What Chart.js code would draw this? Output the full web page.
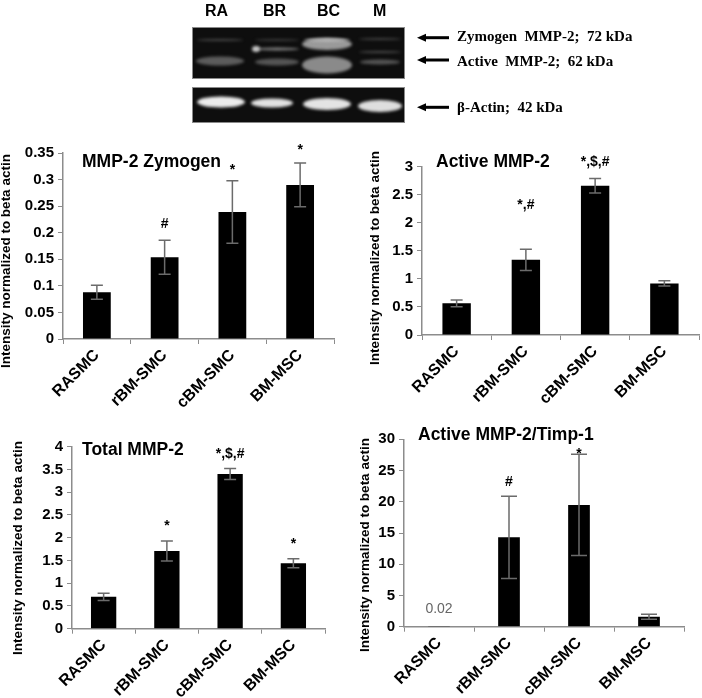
<!DOCTYPE html>
<html>
<head>
<meta charset="utf-8">
<script src="https://cdn.jsdelivr.net/npm/chart.js@4.4.1/dist/chart.umd.min.js"></script>
<style>
  html, body { margin: 0; padding: 0; background: #fff; }
  #page { position: relative; width: 702px; height: 698px; overflow: hidden; font-family: Arial, "Liberation Sans", sans-serif; }
  .box { position: absolute; }
  .lane { position: absolute; top: 3px; font: bold 16px/16px Arial, "Liberation Sans", sans-serif; }
  .band { position: absolute; left: 457px; font: bold 15px/15px "Times New Roman", "Liberation Serif", serif; white-space: pre; }
</style>
</head>
<body>
<div id="page">
  <canvas id="blot" width="702" height="130" style="position:absolute;left:0;top:0"></canvas>
  <div class="lane" style="left:205px">RA</div>
  <div class="lane" style="left:263px">BR</div>
  <div class="lane" style="left:317px">BC</div>
  <div class="lane" style="left:373px">M</div>
  <div class="band" style="top:29px">Zymogen  MMP-2;  72 kDa</div>
  <div class="band" style="top:54px">Active  MMP-2;  62 kDa</div>
  <div class="band" style="top:100px">β-Actin;  42 kDa</div>

  <div class="box" style="left:0;top:140px;width:345px;height:270px"><canvas id="c1"></canvas></div>
  <div class="box" style="left:351px;top:140px;width:351px;height:270px"><canvas id="c2"></canvas></div>
  <div class="box" style="left:0;top:420px;width:351px;height:278px"><canvas id="c3"></canvas></div>
  <div class="box" style="left:340px;top:420px;width:362px;height:278px"><canvas id="c4"></canvas></div>
</div>
<script>
const groups = ["RASMC", "rBM-SMC", "cBM-SMC", "BM-MSC"];

const zymogenMean = [0.088, 0.154, 0.239, 0.29];
const zymogenErr = [0.013, 0.032, 0.059, 0.041];
const zymogenNotes = ["", "#", "*", "*"];

const activeMean = [0.565, 1.34, 2.66, 0.92];
const activeErr = [0.06, 0.19, 0.13, 0.045];
const activeNotes = ["", "*,#", "*,$,#", ""];

const totalMean = [0.70, 1.71, 3.40, 1.44];
const totalErr = [0.08, 0.22, 0.12, 0.10];
const totalNotes = ["", "*", "*,$,#", "*"];

const ratioMean = [0.02, 14.3, 19.5, 1.6];
const ratioErr = [0, 6.6, 8.1, 0.4];
const ratioNotes = ["", "#", "*", ""];

const yMax = [0.35, 3, 4, 30];
const yStep = [0.05, 0.5, 0.5, 5];

const yTitle = "Intensity normalized to beta actin";
const FONT = "Arial, 'Liberation Sans', sans-serif";

// western blot picture (not data, just the gel photo)
function drawBlot() {
  const ctx = document.getElementById("blot").getContext("2d");
  ctx.fillStyle = "#0e0e0e";
  ctx.fillRect(192, 27, 213, 52);
  ctx.fillRect(192, 87, 213, 36);
  ctx.strokeStyle = "#8a8a8a";
  ctx.lineWidth = 1;
  ctx.strokeRect(192.5, 27.5, 212, 51);
  ctx.strokeRect(192.5, 87.5, 212, 35);

  const bands = [
    [220, 46, 40, 2, "#4a4a4a"], [220, 48, 61, 9, "#5c5c5c"],
    [277, 44, 40, 2, "#3c3c3c"], [277, 44, 49, 3, "#7d7d7d"], [256, 8, 49, 6, "#c8c8c8"], [277, 44, 62, 7, "#555"],
    [327, 50, 44, 12, "#9a9a9a"], [327, 50, 65, 17, "#8a8a8a"], [327, 46, 40, 3, "#bbb"],
    [380, 42, 39, 2, "#444"], [380, 42, 52, 2, "#4c4c4c"], [380, 40, 62, 5, "#555"],
    [221, 48, 102, 11, "#ececec"], [272, 42, 103, 9, "#e2e2e2"], [327, 48, 104, 12, "#e4e4e4"], [380, 44, 106, 12, "#dedede"]
  ];
  ctx.save();
  ctx.filter = "blur(1.6px)";
  bands.forEach(([cx, w, cy, h, c]) => {
    ctx.fillStyle = c;
    ctx.beginPath();
    ctx.ellipse(cx, cy, w / 2, h / 2, 0, 0, Math.PI * 2);
    ctx.fill();
  });
  ctx.restore();

  ctx.fillStyle = "#000";
  ctx.strokeStyle = "#000";
  ctx.lineWidth = 3;
  [37.7, 60, 107.3].forEach(y => {
    ctx.beginPath();
    ctx.moveTo(424, y);
    ctx.lineTo(449, y);
    ctx.stroke();
    ctx.beginPath();
    ctx.moveTo(417, y);
    ctx.lineTo(426, y - 4);
    ctx.lineTo(426, y + 4);
    ctx.closePath();
    ctx.fill();
  });
}
drawBlot();

const extras = {
  id: "extras",
  afterDatasetsDraw(chart, args, o) {
    const ctx = chart.ctx;
    const y = chart.scales.y;
    const meta = chart.getDatasetMeta(0);
    const vals = chart.data.datasets[0].data;
    ctx.save();
    meta.data.forEach((bar, i) => {
      const v = vals[i], e = o.errs[i];
      if (e > 0) {
        const top = y.getPixelForValue(v + e), bot = y.getPixelForValue(v - e);
        ctx.strokeStyle = "#6b6b6b";
        ctx.lineWidth = 1.5;
        ctx.beginPath();
        ctx.moveTo(bar.x, top); ctx.lineTo(bar.x, bot);
        ctx.moveTo(bar.x - o.cap, top); ctx.lineTo(bar.x + o.cap, top);
        ctx.moveTo(bar.x - o.cap, bot); ctx.lineTo(bar.x + o.cap, bot);
        ctx.stroke();
      }
      if (o.notes[i]) {
        ctx.fillStyle = "#000";
        ctx.font = "bold 14px " + FONT;
        ctx.textAlign = "center";
        ctx.textBaseline = "alphabetic";
        ctx.fillText(o.notes[i], bar.x, y.getPixelForValue(v + e) - o.gaps[i]);
      }
      if (v < y.max * 0.01) {
        ctx.fillStyle = "#666";
        ctx.font = "14px " + FONT;
        ctx.textAlign = "center";
        ctx.fillText(String(v), bar.x, y.getPixelForValue(0) - 14);
      }
    });
    // heading
    ctx.fillStyle = "#000";
    ctx.font = "bold 17.5px " + FONT;
    ctx.textAlign = "left";
    ctx.textBaseline = "alphabetic";
    ctx.fillText(o.heading, o.hx, o.hy);
    // y title
    ctx.translate(o.tx, o.ty);
    ctx.rotate(-Math.PI / 2);
    ctx.font = "bold 13.5px " + FONT;
    ctx.textAlign = "center";
    ctx.textBaseline = "middle";
    ctx.fillText(yTitle, 0, 0);
    ctx.restore();
  }
};

function makeChart(id, k, means, errs, notes, cfg) {
  return new Chart(document.getElementById(id), {
    type: "bar",
    data: {
      labels: groups,
      datasets: [{
        data: means,
        backgroundColor: "#000",
        borderWidth: 0,
        barPercentage: cfg.bar,
        categoryPercentage: 1
      }]
    },
    options: {
      responsive: true,
      maintainAspectRatio: false,
      animation: false,
      layout: { padding: { left: 0, right: cfg.pr, top: cfg.pt, bottom: 0 } },
      plugins: {
        legend: { display: false },
        tooltip: { enabled: false },
        extras: { errs, notes, gaps: cfg.gaps, cap: cfg.cap, heading: cfg.heading, hx: cfg.hx, hy: cfg.hy, tx: cfg.tx, ty: cfg.ty }
      },
      scales: {
        x: {
          ticks: { minRotation: 45, maxRotation: 45, autoSkip: false, color: "#000", padding: 2,
                   font: { family: FONT, size: 16, weight: "bold" } },
          grid: { drawOnChartArea: false, tickLength: 5, color: "#8c8c8c", offset: true },
          border: { color: "#8c8c8c", width: 1.5 },
          afterFit: s => { s.height = cfg.xh; }
        },
        y: {
          min: 0,
          max: yMax[k],
          ticks: { stepSize: yStep[k], color: "#000", padding: 4,
                   font: { family: FONT, size: 15, weight: "bold" },
                   callback: v => String(+v.toFixed(2)) },
          grid: { drawOnChartArea: false, tickLength: 5, color: "#8c8c8c" },
          border: { color: "#8c8c8c", width: 1.5 },
          afterFit: s => { s.width = cfg.yw; }
        }
      }
    },
    plugins: [extras]
  });
}

makeChart("c1", 0, zymogenMean, zymogenErr, zymogenNotes,
  { bar: 0.41, pr: 11, pt: 12.7, xh: 71, yw: 63, cap: 6, gaps: [0, 12, 7, 9],
    heading: "MMP-2 Zymogen", hx: 82, hy: 27, tx: 6, ty: 121 });
makeChart("c2", 1, activeMean, activeErr, activeNotes,
  { bar: 0.41, pr: 3, pt: 26.7, xh: 75, yw: 71, cap: 6, gaps: [0, 40, 12, 0],
    heading: "Active MMP-2", hx: 85, hy: 27, tx: 24, ty: 118 });
makeChart("c3", 2, totalMean, totalErr, totalNotes,
  { bar: 0.40, pr: 26, pt: 26.7, xh: 69.3, yw: 72, cap: 6, gaps: [0, 11, 11, 11],
    heading: "Total MMP-2", hx: 82, hy: 35, tx: 18, ty: 128 });
makeChart("c4", 3, ratioMean, ratioErr, ratioNotes,
  { bar: 0.31, pr: 18, pt: 19.3, xh: 71.3, yw: 64, cap: 8, gaps: [0, 10, -4, 0],
    heading: "Active MMP-2/Timp-1", hx: 78, hy: 20, tx: 25, ty: 125 });
</script>
</body>
</html>
